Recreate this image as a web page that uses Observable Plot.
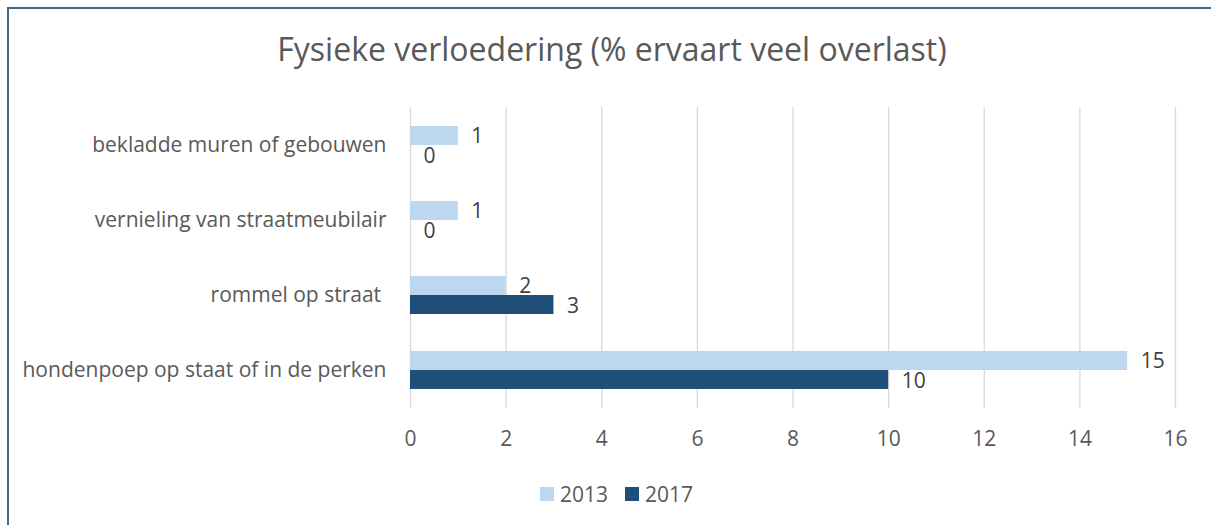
<!DOCTYPE html>
<html>
<head>
<meta charset="utf-8">
<script src="https://cdn.jsdelivr.net/npm/d3@7"></script>
<script src="https://cdn.jsdelivr.net/npm/@observablehq/plot@0.6"></script>
<style>
  html, body { margin: 0; padding: 0; background: #fff; overflow: hidden; width: 1211px; height: 525px; }
  #frame { position: absolute; left: 7px; top: 7px; width: 1400px; height: 700px; border: 2px solid #3F6A93; box-sizing: border-box; }
  #title { position: absolute; left: 612px; top: 34px; transform: translateX(-50%); white-space: nowrap;
           font-family: "Open Sans", sans-serif; font-size: 32px; line-height: 30px; color: #595959; }
  #chart { position: absolute; left: 0; top: 0; }
  #legend { position: absolute; left: 540px; top: 481px; font-family: "Open Sans", sans-serif; font-size: 21px;
            color: #595959; display: flex; align-items: center; white-space: nowrap; line-height: 26px; }
  .sw { display: inline-block; width: 14px; height: 14px; margin-right: 6px; }
  .item { display: flex; align-items: center; margin-right: 17px; }
  #chart svg text { font-family: "Open Sans", sans-serif; }
</style>
</head>
<body>
<div id="frame"></div>
<div id="title"></div>
<div id="chart"></div>
<div id="legend"></div>
<script>
const titleText = "Fysieke verloedering (% ervaart veel overlast)";
const categories = [
  "bekladde muren of gebouwen",
  "vernieling van straatmeubilair",
  "rommel op straat ",
  "hondenpoep op staat of in de perken"
];
const seriesNames = ["2013", "2017"];
const values2013 = [1, 1, 2, 15];
const values2017 = [0, 0, 3, 10];
const xTicks = [0, 2, 4, 6, 8, 10, 12, 14, 16];
const colors = ["#BDD7EE", "#1F4E79"];

const d2013 = categories.map((c, i) => ({category: c, value: values2013[i]}));
const d2017 = categories.map((c, i) => ({category: c, value: values2017[i]}));

document.getElementById("title").textContent = titleText;

const chart = Plot.plot({
  width: 1211,
  height: 470,
  marginTop: 107,
  marginBottom: 62,
  marginLeft: 410,
  marginRight: 36,
  style: {fontFamily: "'Open Sans', sans-serif", fontSize: "21px", color: "#595959", background: "transparent"},
  x: {domain: [0, 16], ticks: xTicks, tickSize: 0, tickPadding: 23, label: null, axis: "bottom"},
  y: {domain: categories, paddingInner: 0.495, paddingOuter: 0.2475, tickSize: 0, tickPadding: 24, label: null, axis: "left"},
  marks: [
    Plot.ruleX(xTicks, {x: d => d, stroke: "#D9D9D9", strokeWidth: 1.3}),
    Plot.barX(d2013, {x: "value", y: "category", fill: colors[0], insetBottom: 19}),
    Plot.barX(d2017, {x: "value", y: "category", fill: colors[1], insetTop: 19}),
    Plot.text(d2013, {x: "value", y: "category", text: d => String(d.value), dy: -9, dx: 13, textAnchor: "start", fill: "#404040", fontSize: 21}),
    Plot.text(d2017, {x: "value", y: "category", text: d => String(d.value), dy: 10.5, dx: 13, textAnchor: "start", fill: "#404040", fontSize: 21})
  ]
});
document.getElementById("chart").appendChild(chart);

const legend = document.getElementById("legend");
seriesNames.forEach((name, i) => {
  const item = document.createElement("span");
  item.className = "item";
  const sw = document.createElement("span");
  sw.className = "sw";
  sw.style.background = colors[i];
  item.appendChild(sw);
  item.appendChild(document.createTextNode(name));
  legend.appendChild(item);
});
</script>
</body>
</html>
